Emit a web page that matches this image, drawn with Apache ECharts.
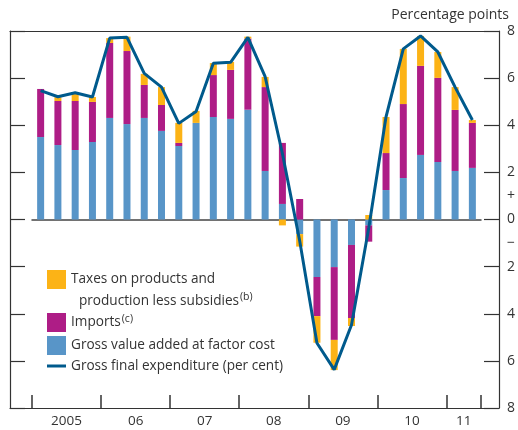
<!DOCTYPE html>
<html>
<head>
<meta charset="utf-8">
<script src="https://cdn.jsdelivr.net/npm/echarts@6/dist/echarts.min.js"></script>
<style>html,body{margin:0;padding:0;background:#fff;}#c{width:518px;height:430px;}</style>
</head>
<body>
<div id="c"></div>
<script>
var quarters = ['2005 Q1','2005 Q2','2005 Q3','2005 Q4','2006 Q1','2006 Q2','2006 Q3','2006 Q4',
  '2007 Q1','2007 Q2','2007 Q3','2007 Q4','2008 Q1','2008 Q2','2008 Q3','2008 Q4',
  '2009 Q1','2009 Q2','2009 Q3','2009 Q4','2010 Q1','2010 Q2','2010 Q3','2010 Q4','2011 Q1','2011 Q2'];
var yearLabels = ['2005','06','07','08','09','10','11'];
var gva = [3.50,3.16,2.95,3.29,4.31,4.05,4.31,3.76,3.12,4.10,4.35,4.27,4.66,2.06,0.66,-0.62,-2.44,-2.02,-1.08,-0.25,1.25,1.76,2.74,2.44,2.06,2.19];
var imports = [2.04,1.87,2.08,1.70,3.18,3.10,1.40,1.10,0.13,0,1.78,2.08,3.02,3.56,2.59,0.87,-1.66,-3.09,-3.10,-0.69,1.57,3.14,3.78,3.57,2.59,1.91];
var taxes = [0,0.16,0.30,0.21,0.21,0.61,0.47,0.76,0.85,0.51,0.51,0.34,0.08,0.43,-0.25,-0.53,-1.13,-1.28,-0.34,0.19,1.53,2.34,1.27,1.10,0.97,0.12];
var gfe = [5.47,5.21,5.38,5.20,7.70,7.73,6.20,5.62,4.08,4.58,6.63,6.67,7.73,6.06,2.8,-0.9,-5.24,-6.37,-4.48,-0.36,4.36,7.24,7.79,7.11,5.62,4.22];

var names = {
  taxes: 'Taxes on products and',
  imports: 'Imports',
  gva: 'Gross value added at factor cost',
  gfe: 'Gross final expenditure (per cent)'
};
var FONT = 'Open Sans';
var TXT = '#333333';
var LFS = 13.6;
var COL = { taxes: '#FCB316', imports: '#AE1D86', gva: '#5895C8', gfe: '#005A8C' };

var chart = echarts.init(document.getElementById('c'), null, { renderer: 'canvas' });
var frameAxis = { show: true, onZero: false, lineStyle: { color: '#333', width: 1.2 } };
var supStyle = { fontFamily: FONT, fontSize: 10.5, color: TXT, fill: TXT, verticalAlign: 'top', lineHeight: 12, padding: [0, 0, 6, 1] };
var option = {
  animation: false,
  backgroundColor: '#fff',
  textStyle: { fontFamily: FONT, color: TXT },
  title: {
    text: 'Percentage points', right: 9, top: 8, padding: 0,
    textStyle: { fontFamily: FONT, fontSize: 14, fontWeight: 'normal', color: TXT }
  },
  grid: [
    { left: 10, right: 18, top: 31, bottom: 22 },
    { left: 32, right: 37, top: 31, bottom: 22 }
  ],
  legend: [
    {
      data: [{ name: names.taxes, icon: 'rect' }], left: 47, top: 270, orient: 'vertical',
      itemWidth: 19, itemHeight: 19, padding: 0, selectedMode: false,
      textStyle: { fontFamily: FONT, fontSize: LFS, color: TXT }
    },
    {
      data: [
        { name: names.imports, icon: 'rect' },
        { name: names.gva, icon: 'rect' },
        { name: names.gfe, icon: 'path://M0,0L19,0L19,3L0,3Z' }
      ],
      left: 47, top: 313, orient: 'vertical',
      itemWidth: 19, itemHeight: 19, itemGap: 4, padding: 0, selectedMode: false,
      formatter: function (n) { return n === names.imports ? '{b|' + n + '}{sup|(c)}' : '{b|' + n + '}'; },
      textStyle: {
        fontFamily: FONT, fontSize: LFS, color: TXT,
        rich: {
          b: { fontFamily: FONT, fontSize: LFS, color: TXT, lineHeight: 18 },
          sup: supStyle
        }
      }
    }
  ],
  graphic: [
    {
      type: 'text', left: 79, top: 292,
      style: {
        text: '{b|production less subsidies}{sup|(b)}',
        rich: {
          b: { fontFamily: FONT, fontSize: LFS, fill: TXT, lineHeight: 18 },
          sup: supStyle
        }
      }
    }
  ],
  xAxis: [
    { gridIndex: 0, type: 'value', min: 0, max: 1, position: 'bottom', axisLine: frameAxis, axisTick: { show: false }, axisLabel: { show: false }, splitLine: { show: false } },
    { gridIndex: 0, type: 'value', min: 0, max: 1, position: 'top', axisLine: frameAxis, axisTick: { show: false }, axisLabel: { show: false }, splitLine: { show: false } },
    { gridIndex: 1, type: 'category', data: quarters, position: 'bottom',
      axisLine: { show: true, onZero: true, lineStyle: { color: '#444', width: 1.5 } },
      axisTick: { show: false }, axisLabel: { show: false }, splitLine: { show: false } },
    { gridIndex: 1, type: 'category', data: quarters, position: 'bottom',
      axisLine: { show: false, onZero: false },
      axisTick: { show: true, inside: true, length: 13, lineStyle: { color: '#333', width: 1.5 },
        interval: function (idx) { return idx % 4 === 0; } },
      axisLabel: {
        show: true, interval: 0, margin: 6, fontFamily: FONT, fontSize: 13.5, color: TXT,
        padding: [0, 0, 0, 17.3],
        formatter: function (v, idx) {
          if (idx === 24) return yearLabels[6];
          if (idx % 4 === 1 && idx < 24) return yearLabels[(idx - 1) / 4];
          return '';
        }
      },
      splitLine: { show: false } }
  ],
  yAxis: [
    { gridIndex: 0, type: 'value', min: -8, max: 8, interval: 2, position: 'left', axisLine: frameAxis,
      axisTick: { show: true, inside: true, length: 15, lineStyle: { color: '#333', width: 1.2 } },
      axisLabel: { show: false }, splitLine: { show: false } },
    { gridIndex: 0, type: 'value', min: -8, max: 8, interval: 2, position: 'right', axisLine: frameAxis,
      axisTick: { show: true, inside: true, length: 15, lineStyle: { color: '#333', width: 1.2 } },
      axisLabel: { show: false }, splitLine: { show: false } },
    { gridIndex: 0, type: 'value', min: -8, max: 8, interval: 1, position: 'right',
      axisLine: { show: false, onZero: false }, axisTick: { show: false }, splitLine: { show: false },
      axisLabel: {
        show: true, margin: 8, fontFamily: FONT, fontSize: 14, color: TXT,
        formatter: function (v) {
          if (v === 1) return '+';
          if (v === -1) return '\u2212';
          if (v % 2 === 0) return String(Math.abs(v));
          return '';
        }
      } },
    { gridIndex: 1, type: 'value', min: -8, max: 8, show: false }
  ],
  series: [
    { name: names.gva, type: 'bar', xAxisIndex: 2, yAxisIndex: 3, stack: 'c', barWidth: 7, data: gva, itemStyle: { color: COL.gva } },
    { name: names.imports, type: 'bar', xAxisIndex: 2, yAxisIndex: 3, stack: 'c', barWidth: 7, data: imports, itemStyle: { color: COL.imports } },
    { name: names.taxes, type: 'bar', xAxisIndex: 2, yAxisIndex: 3, stack: 'c', barWidth: 7, data: taxes, itemStyle: { color: COL.taxes } },
    { name: names.gfe, type: 'line', xAxisIndex: 2, yAxisIndex: 3, data: gfe, symbol: 'none', z: 5,
      lineStyle: { color: COL.gfe, width: 3 }, itemStyle: { color: COL.gfe } }
  ]
};
chart.setOption(option);
</script>
</body>
</html>
